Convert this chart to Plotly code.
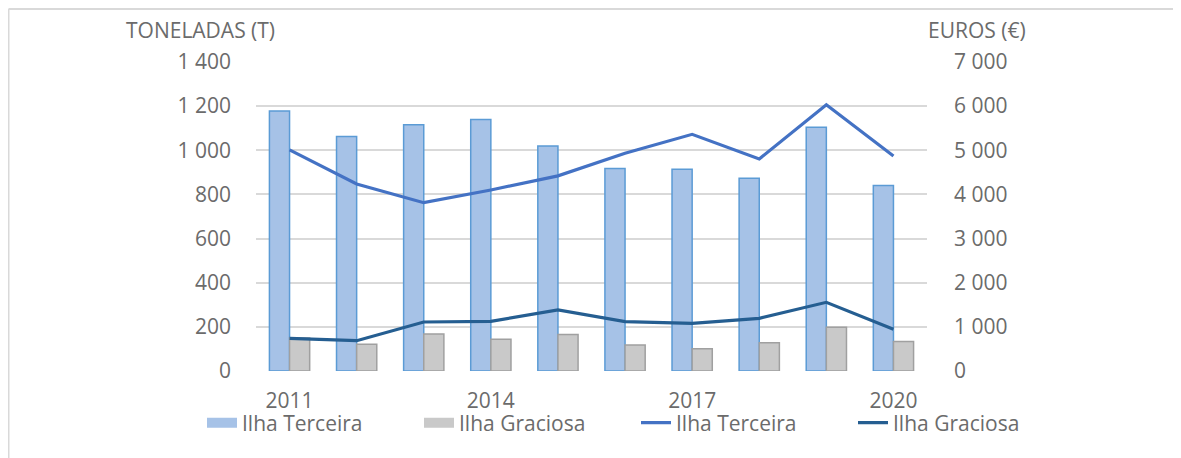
import plotly.graph_objects as go

years = [2011, 2012, 2013, 2014, 2015, 2016, 2017, 2018, 2019, 2020]
terceira_t = [1178, 1062, 1116, 1140, 1019, 918, 914, 873, 1104, 840]
graciosa_t = [150, 121, 168, 144, 165, 118, 101, 128, 198, 134]
terceira_eur = [5010, 4236, 3813, 4100, 4420, 4932, 5362, 4803, 6033, 4870]
graciosa_eur = [740, 687, 1110, 1125, 1382, 1117, 1080, 1193, 1556, 945]
left_ticks = [0, 200, 400, 600, 800, 1000, 1200, 1400]
left_labels = ["0", "200", "400", "600", "800", "1 000", "1 200", "1 400"]
right_ticks = [0, 1000, 2000, 3000, 4000, 5000, 6000, 7000]
right_labels = ["0", "1 000", "2 000", "3 000", "4 000", "5 000", "6 000", "7 000"]
x_ticks = [2011, 2014, 2017, 2020]

FONT = "Open Sans"
GRAY = "#6b6b6b"
FS = 21
BLUE_FILL, BLUE_EDGE = "#a6c2e7", "#5b9bd5"
GRAY_FILL, GRAY_EDGE = "#c9c9c9", "#a0a0a0"

# plot area in figure pixels (page adds an 8px body margin)
L, R, T, B = 248, 919, 54, 363
W, H = R - L, B - T

fig = go.Figure()
fig.add_trace(go.Bar(x=years, y=terceira_t, name="Ilha Terceira", showlegend=False,
                     marker=dict(color=BLUE_FILL, line=dict(color=BLUE_EDGE, width=1.5))))
fig.add_trace(go.Bar(x=years, y=graciosa_t, name="Ilha Graciosa", showlegend=False,
                     marker=dict(color=GRAY_FILL, line=dict(color=GRAY_EDGE, width=1.5))))
# legend stand-ins for the bar series (wide swatches, as in the reference)
fig.add_trace(go.Scatter(x=[None], y=[None], mode="lines", name="Ilha Terceira",
                         line=dict(color=BLUE_FILL, width=11)))
fig.add_trace(go.Scatter(x=[None], y=[None], mode="lines", name="Ilha Graciosa",
                         line=dict(color=GRAY_FILL, width=11)))
fig.add_trace(go.Scatter(x=years, y=terceira_eur, name="Ilha Terceira", mode="lines",
                         line=dict(color="#4472c4", width=3.2), yaxis="y2"))
fig.add_trace(go.Scatter(x=years, y=graciosa_eur, name="Ilha Graciosa", mode="lines",
                         line=dict(color="#255e91", width=3.2), yaxis="y2"))

fig.update_layout(
    width=1181, height=458,
    margin=dict(l=L, r=1181 - R, t=T, b=458 - B, autoexpand=False),
    paper_bgcolor="white", plot_bgcolor="white",
    font=dict(family=FONT, size=FS, color=GRAY),
    barmode="group", bargap=0.4, bargroupgap=0,
    showlegend=True,
    legend=dict(orientation="h", x=(194 - L) / W, xanchor="left", y=(B - 415) / H, yanchor="middle",
                entrywidth=172, entrywidthmode="pixels",
                font=dict(family=FONT, size=FS, color=GRAY), bgcolor="rgba(0,0,0,0)"),
    xaxis=dict(range=[2010.5, 2020.5], tickvals=x_ticks, ticktext=[str(v) for v in x_ticks],
               showgrid=False, zeroline=False, showline=False, ticks="",
               ticklabelstandoff=15, automargin=False),
    yaxis=dict(range=[0, 1400], tickvals=left_ticks, ticktext=left_labels,
               showgrid=True, gridcolor="#d9d9d9", gridwidth=2, zeroline=False,
               ticks="", ticklabelstandoff=24, automargin=False),
    yaxis2=dict(range=[0, 7000], tickvals=right_ticks, ticktext=right_labels,
                overlaying="y", side="right", showgrid=False, zeroline=False,
                ticks="", ticklabelstandoff=26, automargin=False),
    annotations=[
        dict(text="TONELADAS (T)", xref="paper", yref="paper", x=(192 - L) / W, y=(B - 22) / H,
             xanchor="center", yanchor="middle", showarrow=False, font=dict(family=FONT, size=FS, color=GRAY)),
        dict(text="EUROS (€)", xref="paper", yref="paper", x=(969 - L) / W, y=(B - 22) / H,
             xanchor="center", yanchor="middle", showarrow=False, font=dict(family=FONT, size=FS, color=GRAY)),
    ],
    shapes=[
        dict(type="line", xref="paper", yref="paper", x0=(0.5 - L) / W, x1=2, y0=(B - 1) / H, y1=(B - 1) / H,
             line=dict(color="#d9d9d9", width=2)),
        dict(type="line", xref="paper", yref="paper", x0=(0.5 - L) / W, x1=(0.5 - L) / W, y0=(B - 1) / H, y1=-1,
             line=dict(color="#d9d9d9", width=2)),
    ],
)

fig.write_html("out.html")
